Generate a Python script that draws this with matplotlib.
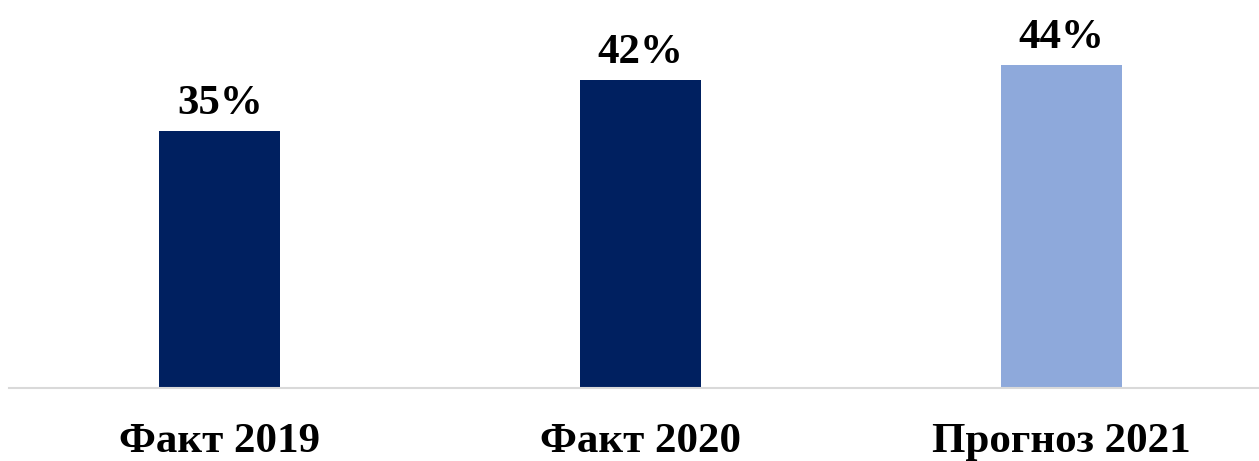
import matplotlib
matplotlib.use("Agg")
import matplotlib.pyplot as plt

categories = ["Факт 2019", "Факт 2020", "Прогноз 2021"]
values = [35, 42, 44]
labels = ["35%", "42%", "44%"]
colors = ["#002060", "#002060", "#8EA9DB"]

plt.rcParams['font.family'] = ['Liberation Serif', 'DejaVu Serif']

W, H = 1259, 461
fig = plt.figure(figsize=(W / 100, H / 100), dpi=100)
ax = fig.add_axes([9 / W, 73 / H, 1 - 9 / W, 388 / H])

x = range(len(categories))
ax.bar(x, values, width=0.2876, color=colors)
for i, v in enumerate(values):
    ax.text(i, v + 1.1, labels[i], ha="center", va="bottom",
            fontsize=31, fontweight="bold")

ax.set_xlim(-0.501, 2.469)
ax.set_ylim(0, 52.9)
ax.set_xticks(list(x))
ax.set_xticklabels(categories, fontsize=31, fontweight="bold")
ax.tick_params(axis="x", length=0, pad=25)
ax.set_yticks([])
for s in ["top", "right", "left"]:
    ax.spines[s].set_visible(False)
ax.spines["bottom"].set_color("#D9D9D9")
ax.spines["bottom"].set_linewidth(1.5)

fig.savefig("out.png", dpi=100)
plt.close()
